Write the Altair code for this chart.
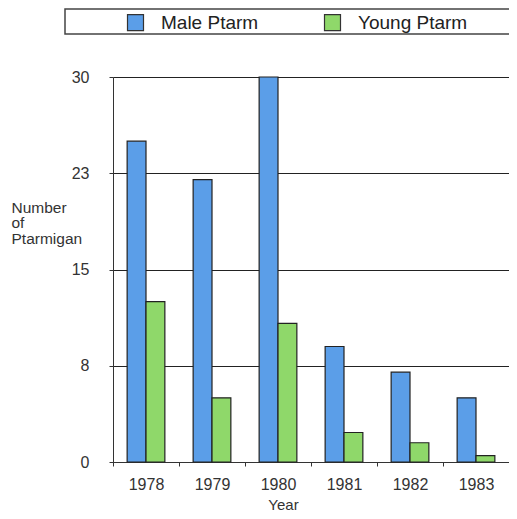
import altair as alt
import pandas as pd

years = ["1978", "1979", "1980", "1981", "1982", "1983"]
male = [25, 22, 30, 9, 7, 5]
young = [12.5, 5, 10.8, 2.3, 1.5, 0.5]
series = ["Male Ptarm", "Young Ptarm"]
colors = ["#5b9ee8", "#8fd86a"]
y_ticks = [0, 7.5, 15, 22.5, 30]

rows = []
for i, yr in enumerate(years):
    rows.append({"Year": yr, "Series": series[0], "Value": male[i]})
    rows.append({"Year": yr, "Series": series[1], "Value": young[i]})
df = pd.DataFrame(rows)

font = "Liberation Sans"

bars = alt.Chart(df).mark_bar(stroke="#222222", strokeWidth=1.2).encode(
    x=alt.X("Year:N", sort=years,
            scale=alt.Scale(paddingInner=0, paddingOuter=0),
            axis=alt.Axis(title="Year", labelAngle=0, tickBand="extent",
                          grid=False, domainColor="#333333", tickColor="#333333",
                          tickSize=4, labelPadding=10, labelFontSize=16,
                          labelColor="#333333", labelFont=font,
                          titleFont=font, titleFontSize=15, titleFontWeight="normal",
                          titleColor="#333333", titleX=170, titleY=47,
                          titleBaseline="alphabetic", titleAnchor="start", titleAlign="center")),
    xOffset=alt.XOffset("Series:N", sort=series,
                        scale=alt.Scale(paddingInner=0, paddingOuter=0.75)),
    y=alt.Y("Value:Q", scale=alt.Scale(domain=[0, 30], nice=False),
            axis=alt.Axis(values=y_ticks, format=".0f", title=["Number", "of", "Ptarmigan"],
                          titleAngle=0, titleAlign="left", titleBaseline="top",
                          titleX=-102, titleY=123, titleLineHeight=15.5,
                          titleFont=font, titleFontSize=15.5, titleFontWeight="normal",
                          titleColor="#333333",
                          grid=True, gridColor="#222222", gridOpacity=1, gridWidth=1.1,
                          domainColor="#333333", tickColor="#333333", tickSize=4,
                          labelPadding=20, labelFontSize=16, labelColor="#333333",
                          labelFont=font)),
    color=alt.Color("Series:N", sort=series,
                    scale=alt.Scale(domain=series, range=colors),
                    legend=alt.Legend(title=None, orient="none", legendX=13, legendY=-64,
                                      direction="horizontal", symbolType="square",
                                      symbolSize=256, symbolStrokeColor="#333333",
                                      symbolStrokeWidth=1.2, labelFontSize=19,
                                      labelFont=font, labelColor="#222222",
                                      labelOffset=16, columnPadding=63, padding=0,
                                      labelLimit=300)),
)

frame = alt.Chart(pd.DataFrame({"k": [0]})).mark_rect(
    fill=None, stroke="#444444", strokeWidth=1.5, clip=False
).encode(x=alt.value(-48), x2=alt.value(410), y=alt.value(-68), y2=alt.value(-43))

chart = alt.layer(bars, frame).properties(
    width=396, height=385,
    autosize=alt.AutoSizeParams(type="none"),
    padding={"left": 105, "top": 69, "right": 0, "bottom": 49},
).configure_view(stroke=None).configure(background="white")

chart.save("out.html", embed_options={"renderer": "svg", "actions": False})
